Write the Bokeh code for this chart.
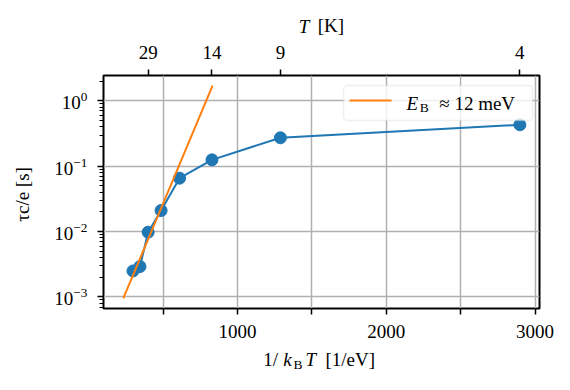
from bokeh.plotting import figure
from bokeh.models import LinearAxis, FixedTicker, Label, BoxAnnotation, Range1d
from bokeh.embed import file_html
from bokeh.resources import INLINE

# ---- data ----
inv_kT = [298, 345, 400, 487, 611, 829, 1289, 2898]          # 1/k_B T [1/eV]
tau = [2.5e-3, 2.92e-3, 9.8e-3, 0.021, 0.0656, 0.125, 0.272, 0.43]  # tau_c/e [s]
fit_x = [233, 833]
fit_tau = [9.5e-4, 1.71]
x_ticks = [500, 1000, 1500, 2000, 2500, 3000]
x_tick_labels = ["", "1000", "", "2000", "", "3000"]
top_tick_pos = [400, 829, 1289, 2898]
top_tick_labels = ["29", "14", "9", "4"]

FONT = "Liberation Serif"
BLUE = "#1f77b4"
ORANGE = "#ff7f0e"
GRID = "#b0b0b0"
NB = "\u00a0"

p = figure(width=570, height=390, output_backend="svg", toolbar_location=None,
           x_range=Range1d(100, 3030), y_range=Range1d(10 ** -3.176, 10 ** 0.387),
           y_axis_type="log",
           min_border_left=102, min_border_right=31, min_border_top=75, min_border_bottom=82)
p.background_fill_color = "white"
p.border_fill_color = "white"
p.outline_line_color = "black"
p.outline_line_width = 2

xb = p.below[0]
yl = p.left[0]
xb.ticker = FixedTicker(ticks=x_ticks)
xb.major_label_overrides = dict(zip(x_ticks, x_tick_labels))
p.xgrid[0].ticker = xb.ticker

top = LinearAxis(ticker=FixedTicker(ticks=top_tick_pos),
                 major_label_overrides=dict(zip(top_tick_pos, top_tick_labels)))
p.add_layout(top, "above")

for ax in [xb, yl, top]:
    ax.axis_line_color = None
    ax.major_tick_line_color = "black"
    ax.major_tick_line_width = 1.5
    ax.minor_tick_line_color = "black"
    ax.minor_tick_line_width = 1.2
    ax.major_tick_out = 6
    ax.major_tick_in = 0
    ax.minor_tick_out = 4
    ax.minor_tick_in = 0
    ax.major_label_text_font = FONT
    ax.major_label_text_font_size = "19px"
    ax.major_label_text_color = "black"
    ax.axis_label_text_font = FONT
    ax.axis_label_text_font_size = "19px"
    ax.axis_label_text_font_style = "normal"
    ax.axis_label_text_color = "black"
xb.major_label_standoff = 10
yl.major_label_standoff = 10
top.major_label_standoff = 11

# axis labels (roman parts; italic / subscript parts are added as labels below)
xb.axis_label = "1/" + NB * 10 + "[1/eV]" + NB
xb.axis_label_standoff = 8
top.axis_label = NB * 4 + "[K]"
top.axis_label_standoff = 7
yl.axis_label = "\u03c4c/e" + NB + "[s]" + NB
yl.axis_label_standoff = 18

for g in [p.xgrid[0], p.ygrid[0]]:
    g.grid_line_color = GRID
    g.grid_line_width = 1.5

p.line(inv_kT, tau, line_color=BLUE, line_width=2)
p.scatter(inv_kT, tau, size=12, fill_color=BLUE, line_color=BLUE)
p.line(fit_x, fit_tau, line_color=ORANGE, line_width=2)


def mk(txt, sx, sy, size="19px", style="normal"):
    return Label(x=sx, y=sy, x_units="screen", y_units="screen", text=txt,
                 text_font=FONT, text_font_size=size, text_font_style=style,
                 text_color="black", text_align="left", text_baseline="alphabetic")


# right side panels: italic k and T of the bottom label, italic T of the top label
p.add_layout(mk("k", -256.3, -51, style="italic"), "right")
p.add_layout(mk("T", -242, -51, style="italic"), "right")
p.add_layout(mk("T", -259.7, 281.6, style="italic"), "right")

# left panel: subscript B of the bottom label
p.add_layout(mk("B", 293, -56, size="13.5px"), "left")

# legend
p.add_layout(BoxAnnotation(left=240, right=429, top=223, bottom=188,
                           left_units="screen", right_units="screen",
                           top_units="screen", bottom_units="screen",
                           fill_color="white", fill_alpha=0.8,
                           line_color="#cccccc", line_width=1.5, border_radius=4))
p.add_layout(BoxAnnotation(left=246, right=288, top=209, bottom=207,
                           left_units="screen", right_units="screen",
                           top_units="screen", bottom_units="screen",
                           fill_color=ORANGE, fill_alpha=1.0, line_color=None))
p.add_layout(mk("E", 303, 204.7, style="italic"))
p.add_layout(mk("B", 316.3, 201, size="13.5px"))
p.add_layout(mk("\u2248 12 meV", 335.7, 204.7))

open("out.html", "w").write(file_html(p, INLINE))
